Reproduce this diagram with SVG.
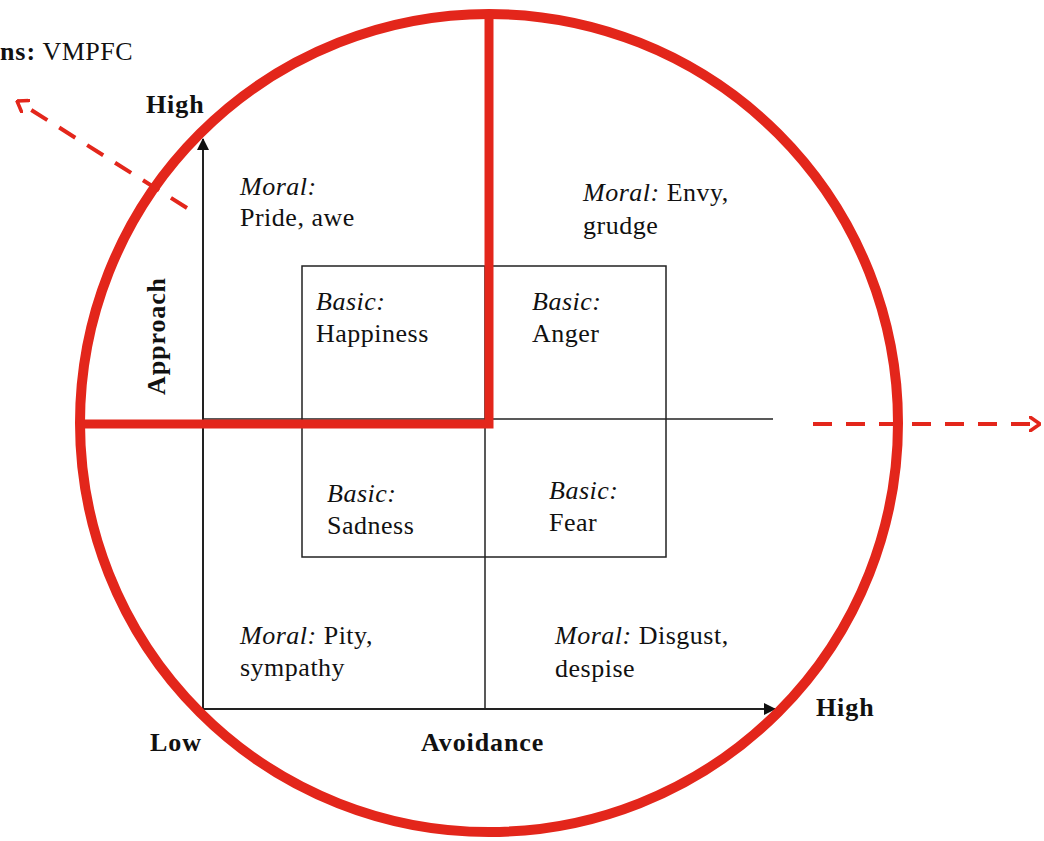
<svg xmlns="http://www.w3.org/2000/svg" width="1044" height="841" viewBox="0 0 1044 841">
  <style>
    .txt { font-family: "Liberation Serif", "DejaVu Serif", serif; font-size: 26px; letter-spacing: 0.5px; fill: #111; }
    .it { font-style: italic; }
    .bold { font-weight: bold; font-size: 26px; letter-spacing: 0.9px; }
    .thin { stroke: #222; stroke-width: 1.5; fill: none; }
    .red { stroke: #e3261b; fill: none; }
    .dash { stroke: #e3261b; stroke-width: 4; stroke-dasharray: 19 14; fill: none; }
  </style>
  <defs>
    <marker id="blackArrow" viewBox="0 0 12 12" refX="11" refY="6" markerWidth="12" markerHeight="12" markerUnits="userSpaceOnUse" orient="auto">
      <path d="M0,0 L12,6 L0,12 Z" fill="#111"/>
    </marker>
    <marker id="redChevron" viewBox="0 0 12 16" refX="11" refY="8" markerWidth="12" markerHeight="16" markerUnits="userSpaceOnUse" orient="auto">
      <path d="M1,1 L11,8 L1,15" fill="none" stroke="#e3261b" stroke-width="3.5" stroke-linecap="round" stroke-linejoin="round"/>
    </marker>
  </defs>
  <rect width="1044" height="841" fill="#fff"/>

  <!-- grid and axes -->
  <g id="connectors">
    <rect x="302" y="266" width="364" height="291" class="thin"/>
    <line x1="203" y1="419" x2="773" y2="419" class="thin"/>
    <line x1="485" y1="266" x2="485" y2="709" class="thin"/>
    <line x1="203" y1="709" x2="203" y2="139" class="thin" marker-end="url(#blackArrow)" style="stroke-width:2"/>
    <line x1="203" y1="709" x2="775" y2="709" class="thin" marker-end="url(#blackArrow)" style="stroke-width:2"/>
    <!-- dashed outward arrows -->
    <line x1="187" y1="208" x2="17" y2="101" class="dash" marker-end="url(#redChevron)"/>
    <line x1="813" y1="424" x2="1040" y2="424" class="dash" marker-end="url(#redChevron)"/>
  </g>

  <!-- enclosing circle and highlighted quadrant -->
  <g id="region">
    <circle cx="489" cy="423" r="409" class="red" stroke-width="10"/>
    <path d="M80,424 L489,424 L489,14" class="red" stroke-width="9" stroke-linejoin="miter"/>
  </g>

  <g id="label-vmpfc">
    <text x="0" y="60" class="txt"><tspan class="bold">ns:</tspan> VMPFC</text>
  </g>

  <g id="axis-labels">
    <text x="146" y="113" class="txt bold">High</text>
    <text x="816" y="716" class="txt bold">High</text>
    <text x="150" y="751" class="txt bold">Low</text>
    <text x="421" y="751" class="txt bold">Avoidance</text>
    <text x="0" y="0" class="txt bold" text-anchor="middle" transform="translate(165,336) rotate(-90)">Approach</text>
  </g>

  <g id="moral-pride">
    <text x="240" y="195" class="txt it">Moral:</text>
    <text x="240" y="226" class="txt">Pride, awe</text>
  </g>
  <g id="moral-envy">
    <text x="583" y="201" class="txt"><tspan class="it">Moral:</tspan> Envy,</text>
    <text x="583" y="234" class="txt">grudge</text>
  </g>
  <g id="basic-happiness">
    <text x="316" y="310" class="txt it">Basic:</text>
    <text x="316" y="342" class="txt">Happiness</text>
  </g>
  <g id="basic-anger">
    <text x="532" y="310" class="txt it">Basic:</text>
    <text x="532" y="342" class="txt">Anger</text>
  </g>
  <g id="basic-sadness">
    <text x="327" y="502" class="txt it">Basic:</text>
    <text x="327" y="534" class="txt">Sadness</text>
  </g>
  <g id="basic-fear">
    <text x="549" y="499" class="txt it">Basic:</text>
    <text x="549" y="531" class="txt">Fear</text>
  </g>
  <g id="moral-pity">
    <text x="240" y="644" class="txt"><tspan class="it">Moral:</tspan> Pity,</text>
    <text x="240" y="676" class="txt">sympathy</text>
  </g>
  <g id="moral-disgust">
    <text x="555" y="644" class="txt"><tspan class="it">Moral:</tspan> Disgust,</text>
    <text x="555" y="677" class="txt">despise</text>
  </g>
</svg>
